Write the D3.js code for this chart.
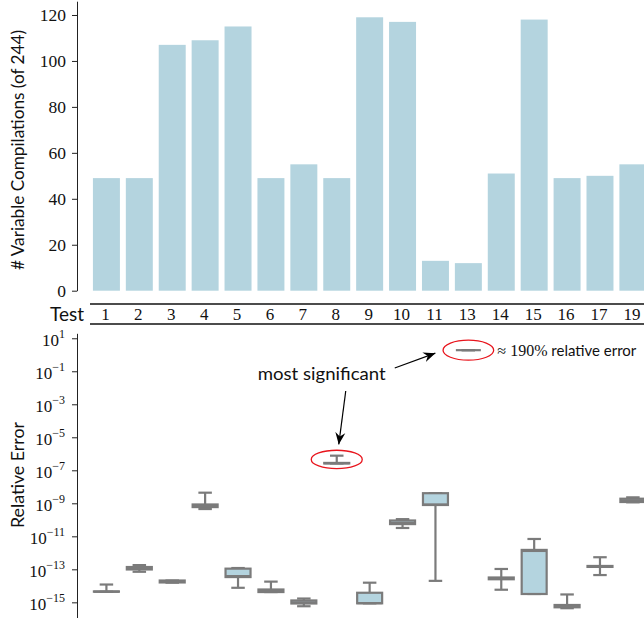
<!DOCTYPE html>
<html lang="en">
<head>
<meta charset="UTF-8">
<title>Variable compilations and relative error</title>
<script src="https://d3js.org/d3.v7.min.js"></script>
<style>
  body { margin: 0; background: #fff; }
  svg { display: block; }
</style>
</head>
<body>
<div id="chart"></div>
<script>
// test ids (x categories)
var tests = ["1", "2", "3", "4", "5", "6", "7", "8", "9", "10", "11", "13", "14", "15", "16", "17", "19"];

// top panel: # variable compilations (of 244)
var compilations = [49, 49, 107, 109, 115, 49, 55, 49, 119, 117, 13, 12, 51, 118, 49, 50, 55];

// bottom panel: relative error box stats
var whisLow  = [4.4e-15, 7.1e-14, 1.55e-14, 4.5e-10, 7.6e-15, 4.2e-15, 5.8e-16, 2.6e-7, 8.7e-16, 3.2e-11, 2.0e-14, 1.9, 5.8e-15, 3.2e-15, 4.4e-16, 4.5e-14, 1.15e-9];
var q1       = [4.4e-15, 9.8e-14, 1.6e-14, 5.9e-10, 3.4e-14, 4.2e-15, 8.5e-16, 2.6e-7, 8.7e-16, 5.5e-11, 7.9e-10, 1.9, 2.5e-14, 3.2e-15, 5.0e-16, 1.4e-13, 1.2e-9];
var median   = [4.4e-15, 1.2e-13, 1.8e-14, 6.9e-10, 3.9e-14, 4.8e-15, 1.0e-15, 2.7e-7, 9.0e-16, 6.6e-11, 8.5e-10, 1.9, 2.8e-14, 1.3e-12, 5.6e-16, 1.5e-13, 1.5e-9];
var q3       = [4.6e-15, 1.38e-13, 2.1e-14, 8.5e-10, 1.1e-13, 6.0e-15, 1.3e-15, 2.8e-7, 3.8e-15, 9.1e-11, 4.1e-9, 1.9, 3.2e-14, 1.5e-12, 6.9e-16, 1.6e-13, 1.9e-9];
var whisHigh = [1.2e-14, 1.8e-13, 2.1e-14, 4.4e-9, 1.2e-13, 1.8e-14, 1.7e-15, 7.7e-7, 1.55e-14, 1.1e-10, 4.1e-9, 1.9, 1.05e-13, 6.9e-12, 3.0e-15, 5.4e-13, 2.3e-9];

var barTicks = [0, 20, 40, 60, 80, 100, 120];
var logTicks = [1e1, 1e-1, 1e-3, 1e-5, 1e-7, 1e-9, 1e-11, 1e-13, 1e-15];

// annotated tests
var noteLow = "8", noteHigh = "13";

var W = 644, H = 618;
var barColor = "#b4d4df", lineColor = "#7b7b7b";
var SERIF = '"Liberation Serif", "DejaVu Serif", serif';
var SANS = '"Lato", "Liberation Sans", sans-serif';

var svg = d3.select("#chart").append("svg")
    .attr("width", W).attr("height", H);

var x = d3.scaleBand().domain(tests).range([87, 652.3]).padding(0.18);

// ---------- top panel ----------
var y = d3.scaleLinear().domain([0, 126]).range([290.7, 1.2]);

svg.append("g").selectAll("rect").data(tests).join("rect")
    .attr("x", function(d) { return x(d); })
    .attr("width", x.bandwidth())
    .attr("y", function(d, i) { return y(compilations[i]); })
    .attr("height", function(d, i) { return y(0) - y(compilations[i]); })
    .attr("fill", barColor);

var yAx = svg.append("g").attr("transform", "translate(77,0)")
    .call(d3.axisLeft(y).tickValues(barTicks).tickSize(5).tickSizeOuter(0).tickPadding(6));
yAx.attr("font-family", null);
yAx.select(".domain").attr("stroke", "#222");
yAx.selectAll(".tick line").attr("stroke", "#222");
yAx.selectAll("text").style("font-family", SERIF).attr("font-size", 17.5).attr("fill", "#111").attr("dy", "0.34em");

svg.append("text").style("font-family", SANS)
    .attr("transform", "translate(24,150) rotate(-90)")
    .attr("text-anchor", "middle").attr("font-size", 17.5).attr("fill", "#111")
    .attr("textLength", 240).attr("lengthAdjust", "spacingAndGlyphs")
    .text("# Variable Compilations (of 244)");

// ---------- test table row ----------
[304, 324].forEach(function(ly) {
  svg.append("line").attr("x1", 90).attr("x2", W).attr("y1", ly).attr("y2", ly)
      .attr("stroke", "#111").attr("stroke-width", 1.3);
});
svg.append("text").style("font-family", SANS).attr("x", 84).attr("y", 320.5)
    .attr("text-anchor", "end").attr("font-size", 19).attr("fill", "#111").text("Test");
svg.append("g").selectAll("text").data(tests).join("text")
    .style("font-family", SERIF)
    .attr("x", function(d) { return x(d) + x.bandwidth() / 2 - 1; })
    .attr("y", 320).attr("text-anchor", "middle").attr("font-size", 17).attr("fill", "#111")
    .text(function(d) { return d; });

// ---------- bottom panel ----------
var yl = d3.scaleLog().domain([6e-17, 20]).range([622.5, 333.3]);

var ylAx = svg.append("g").attr("transform", "translate(77,0)")
    .call(d3.axisLeft(yl).tickValues(logTicks).tickSize(5).tickSizeOuter(0).tickPadding(7).tickFormat(function() { return ""; }));
ylAx.attr("font-family", null);
ylAx.select(".domain").attr("stroke", "#222");
ylAx.selectAll(".tick line").attr("stroke", "#222");
ylAx.selectAll(".tick text").each(function(d) {
  var t = d3.select(this).style("font-family", SERIF).attr("fill", "#111").attr("font-size", 17).attr("dy", "0.45em");
  var e = Math.round(Math.log10(d));
  t.append("tspan").text("10");
  t.append("tspan").attr("dy", -8).attr("font-size", 12).text(e < 0 ? "\u2212" + (-e) : String(e));
});

svg.append("text").style("font-family", SANS)
    .attr("transform", "translate(24,475) rotate(-90)")
    .attr("text-anchor", "middle").attr("font-size", 16.5).attr("fill", "#111")
    .attr("textLength", 106).attr("lengthAdjust", "spacingAndGlyphs")
    .text("Relative Error");

var boxes = svg.append("g").attr("stroke", lineColor).attr("stroke-width", 2.2).attr("fill", "none");
tests.forEach(function(t, i) {
  var x0 = x(t), bw = x.bandwidth(), cx = x0 + bw / 2, cw = bw * 0.25;
  // whiskers
  boxes.append("line").attr("x1", cx).attr("x2", cx).attr("y1", yl(q3[i])).attr("y2", yl(whisHigh[i]));
  boxes.append("line").attr("x1", cx).attr("x2", cx).attr("y1", yl(q1[i])).attr("y2", yl(whisLow[i]));
  boxes.append("line").attr("x1", cx - cw).attr("x2", cx + cw).attr("y1", yl(whisHigh[i])).attr("y2", yl(whisHigh[i]));
  boxes.append("line").attr("x1", cx - cw).attr("x2", cx + cw).attr("y1", yl(whisLow[i])).attr("y2", yl(whisLow[i]));
  // box
  boxes.append("rect").attr("x", x0 + 1).attr("width", bw - 2)
      .attr("y", yl(q3[i])).attr("height", Math.max(0, yl(q1[i]) - yl(q3[i])))
      .attr("fill", barColor);
  boxes.append("line").attr("x1", x0 + 1).attr("x2", x0 + bw - 1).attr("y1", yl(median[i])).attr("y2", yl(median[i]));
});

// ---------- annotations ----------
var iLow = tests.indexOf(noteLow), iHigh = tests.indexOf(noteHigh);
var lowX = x(noteLow) + x.bandwidth() / 2, lowY = (yl(whisHigh[iLow]) + yl(median[iLow])) / 2;
var highX = x(noteHigh) + x.bandwidth() / 2, highY = yl(median[iHigh]);

svg.append("defs").append("marker")
    .attr("id", "head").attr("viewBox", "-12 -6 14 12")
    .attr("markerWidth", 14).attr("markerHeight", 12).attr("refX", 0).attr("refY", 0)
    .attr("markerUnits", "userSpaceOnUse").attr("orient", "auto")
  .append("path").attr("d", "M0,0 L-12,-5 L-8,0 L-12,5 Z").attr("fill", "#000");

svg.append("ellipse").attr("cx", lowX).attr("cy", lowY).attr("rx", 25.5).attr("ry", 9.2)
    .attr("fill", "none").attr("stroke", "#e8141c").attr("stroke-width", 1.3);
svg.append("ellipse").attr("cx", highX).attr("cy", highY).attr("rx", 25.3).attr("ry", 10)
    .attr("fill", "none").attr("stroke", "#e8141c").attr("stroke-width", 1.3);

svg.append("text").style("font-family", SANS).attr("x", lowX - 79).attr("y", 380)
    .attr("font-size", 18).attr("textLength", 128).attr("lengthAdjust", "spacingAndGlyphs")
    .attr("fill", "#111").text("most significant");

svg.append("line").attr("x1", lowX + 58).attr("y1", 368).attr("x2", highX - 33).attr("y2", highY + 3)
    .attr("stroke", "#000").attr("stroke-width", 1.2).attr("marker-end", "url(#head)");
svg.append("line").attr("x1", lowX + 9).attr("y1", 391).attr("x2", lowX + 2).attr("y2", lowY - 15)
    .attr("stroke", "#000").attr("stroke-width", 1.2).attr("marker-end", "url(#head)");

var note = svg.append("text").attr("x", highX + 29).attr("y", highY + 6).attr("fill", "#111");
note.append("tspan").style("font-family", SERIF).attr("font-size", 16).text("\u2248 190%");
note.append("tspan").style("font-family", SANS).attr("font-size", 15).text(" relative error");
</script>
</body>
</html>
